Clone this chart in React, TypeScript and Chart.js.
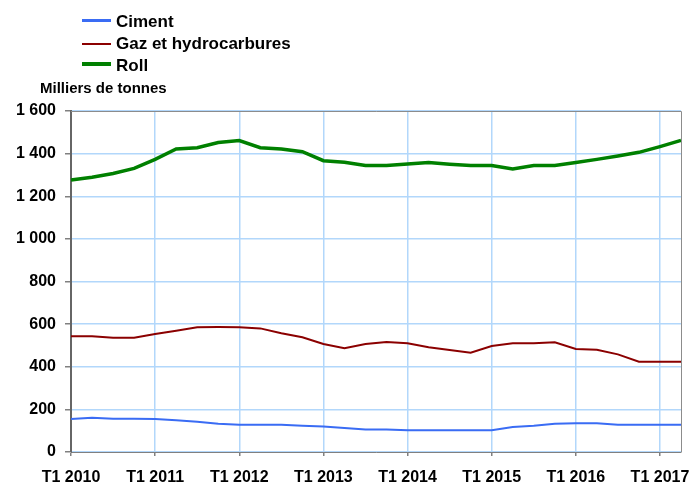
import React, { useEffect, useRef } from "react";
import { Chart, registerables } from "chart.js";

Chart.register(...registerables);

const quarters = [
  "T1 2010", "T2 2010", "T3 2010", "T4 2010",
  "T1 2011", "T2 2011", "T3 2011", "T4 2011",
  "T1 2012", "T2 2012", "T3 2012", "T4 2012",
  "T1 2013", "T2 2013", "T3 2013", "T4 2013",
  "T1 2014", "T2 2014", "T3 2014", "T4 2014",
  "T1 2015", "T2 2015", "T3 2015", "T4 2015",
  "T1 2016", "T2 2016", "T3 2016", "T4 2016",
  "T1 2017", "T2 2017",
];

const ciment = [155, 161, 156, 156, 155, 149, 142, 133, 128, 128, 128, 123, 120, 113, 106, 106, 102, 102, 102, 102, 102, 117, 123, 133, 135, 135, 128, 128, 128, 128];
const gaz = [543, 543, 536, 536, 554, 569, 585, 586, 585, 580, 557, 538, 507, 487, 507, 516, 510, 491, 479, 466, 497, 510, 510, 515, 483, 480, 458, 424, 423, 423];
const roll = [1276, 1289, 1307, 1331, 1373, 1422, 1428, 1452, 1461, 1428, 1422, 1409, 1367, 1359, 1344, 1344, 1351, 1358, 1350, 1344, 1344, 1328, 1344, 1344, 1358, 1373, 1389, 1406, 1433, 1462];

const seriesNames = ["Ciment", "Gaz et hydrocarbures", "Roll"];
const seriesColors = ["#3a6cf4", "#8b0000", "#008000"];
const yTitle = "Milliers de tonnes";

const FONT = "'Liberation Sans', Arial, sans-serif";
const GRID = "#b2d7fb";

const frame = {
  id: "frame",
  afterDatasetsDraw(chart: any) {
    const { ctx, chartArea } = chart;
    ctx.save();
    ctx.strokeStyle = "#8c8c8c";
    ctx.lineWidth = 1;
    ctx.beginPath();
    ctx.moveTo(chartArea.left, chartArea.top + 0.5);
    ctx.lineTo(chartArea.right + 0.5, chartArea.top + 0.5);
    ctx.lineTo(chartArea.right + 0.5, chartArea.bottom);
    ctx.stroke();
    ctx.restore();
  },
};

function fmt(v: number) {
  if (v >= 1000) return `${Math.floor(v / 1000)} ${String(v % 1000).padStart(3, "0")}`;
  return String(v);
}

export default function App() {
  const ref = useRef<HTMLCanvasElement>(null);
  useEffect(() => {
    const chart = new Chart(ref.current!, {
      type: "line",
      data: {
        labels: quarters,
        datasets: [
          { label: seriesNames[0], data: ciment, borderColor: seriesColors[0], borderWidth: 2, pointRadius: 0, tension: 0 },
          { label: seriesNames[1], data: gaz, borderColor: seriesColors[1], borderWidth: 2, pointRadius: 0, tension: 0 },
          { label: seriesNames[2], data: roll, borderColor: seriesColors[2], borderWidth: 3.5, pointRadius: 0, tension: 0 },
        ],
      },
      options: {
        animation: false,
        responsive: false,
        maintainAspectRatio: false,
        layout: { padding: { top: 111, right: 10, left: 0, bottom: 0 } },
        plugins: { legend: { display: false }, tooltip: { enabled: false } },
        scales: {
          x: {
            offset: false,
            afterFit: (s: any) => { s.height = 32; },
            grid: {
              color: (c: any) => (c.index % 4 === 0 ? GRID : "rgba(0,0,0,0)"),
              tickColor: (c: any) => (c.index % 4 === 0 ? "#808080" : "rgba(0,0,0,0)"),
              tickLength: 4,
              lineWidth: 1.5,
            },
            border: { color: "#808080", width: 1 },
            ticks: {
              autoSkip: false,
              maxRotation: 0,
              minRotation: 0,
              padding: 12,
              color: "#000",
              font: { family: FONT, size: 16, weight: "bold" },
              callback: function (this: any, val: any, index: number) {
                return index % 4 === 0 ? this.getLabelForValue(val) : "";
              },
            },
          },
          y: {
            min: 0,
            max: 1600,
            afterFit: (s: any) => { s.width = 71; },
            grid: { color: GRID, tickColor: "#808080", tickLength: 6, lineWidth: 1.5 },
            border: { color: "#666666", width: 2 },
            ticks: {
              stepSize: 200,
              padding: 9,
              color: "#000",
              font: { family: FONT, size: 16, weight: "bold" },
              callback: (v: any) => fmt(Number(v)),
            },
          },
        },
      },
      plugins: [frame],
    });
    return () => chart.destroy();
  }, []);

  const legendTops = [12.7, 34.7, 56.7];
  const lineYs = [20, 43, 63];
  const lineH = [3, 2, 4];

  return (
    <div style={{ position: "absolute", left: 0, top: 0, width: 693, height: 484, background: "#fff" }}>
      <canvas ref={ref} width={693} height={484} style={{ position: "absolute", left: 0, top: 0 }} />
      {seriesNames.map((n, i) => (
        <React.Fragment key={n}>
          <div style={{ position: "absolute", left: 82, top: lineYs[i] - lineH[i] / 2 + 0.5, width: 29, height: lineH[i], background: seriesColors[i] }} />
          <div style={{ position: "absolute", left: 116, top: legendTops[i], fontFamily: FONT, fontWeight: "bold", fontSize: 17, lineHeight: "17px", color: "#000", whiteSpace: "nowrap" }}>{n}</div>
        </React.Fragment>
      ))}
      <div style={{ position: "absolute", left: 40, top: 80, fontFamily: FONT, fontWeight: "bold", fontSize: 15, lineHeight: "15px", color: "#000", whiteSpace: "nowrap" }}>{yTitle}</div>
    </div>
  );
}
